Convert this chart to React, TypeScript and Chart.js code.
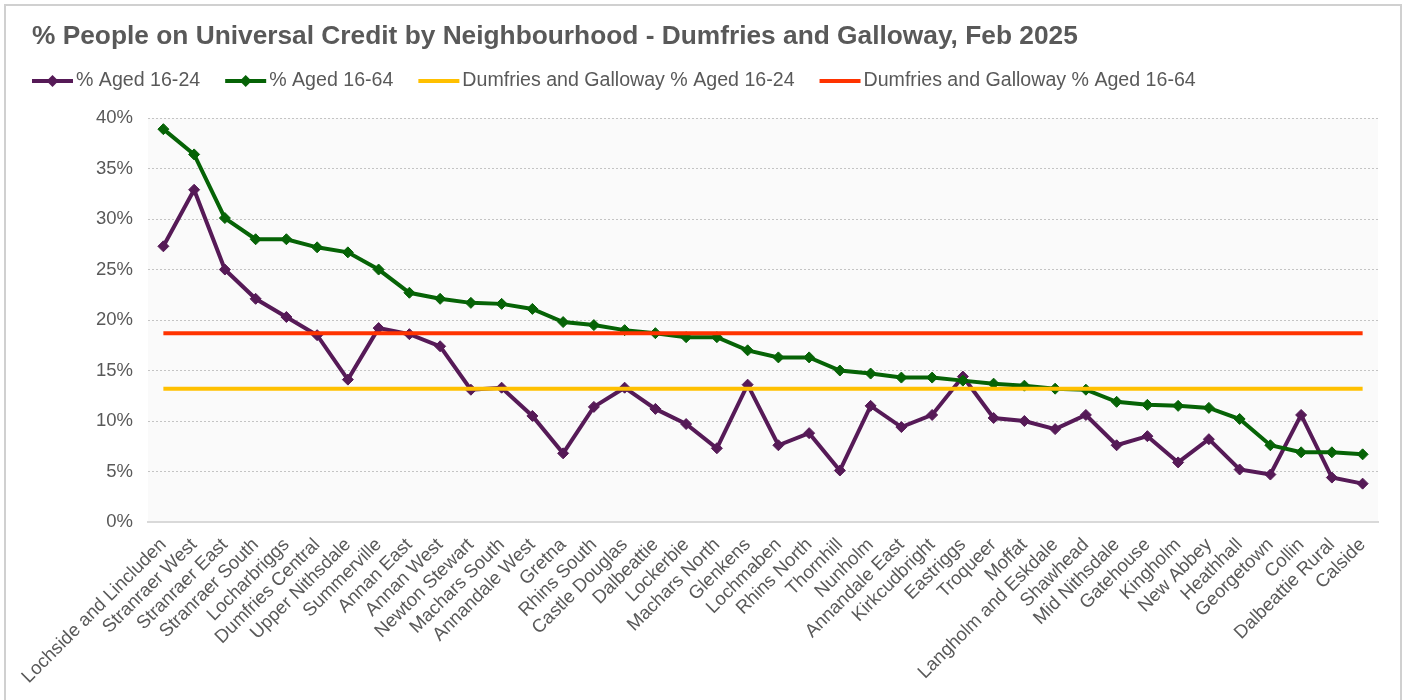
import React, { useEffect, useRef } from "react";
import { Chart, registerables } from "chart.js";

Chart.register(...registerables);

const FONT = '"Liberation Sans", Arial, sans-serif';
const TEXT_COLOR = "#595959";

const titleText = "% People on Universal Credit by Neighbourhood - Dumfries and Galloway, Feb 2025";

const categories = [
  "Lochside and Lincluden", "Stranraer West", "Stranraer East", "Stranraer South", "Locharbriggs",
  "Dumfries Central", "Upper Nithsdale", "Summerville", "Annan East", "Annan West",
  "Newton Stewart", "Machars South", "Annandale West", "Gretna", "Rhins South",
  "Castle Douglas", "Dalbeattie", "Lockerbie", "Machars North", "Glenkens",
  "Lochmaben", "Rhins North", "Thornhill", "Nunholm", "Annandale East",
  "Kirkcudbright", "Eastriggs", "Troqueer", "Moffat", "Langholm and Eskdale",
  "Shawhead", "Mid Nithsdale", "Gatehouse", "Kingholm", "New Abbey",
  "Heathhall", "Georgetown", "Collin", "Dalbeattie Rural", "Calside",
];

const aged1624 = [
  27.3, 32.9, 25.0, 22.1, 20.3, 18.5, 14.1, 19.2, 18.6, 17.4,
  13.1, 13.3, 10.5, 6.8, 11.4, 13.3, 11.2, 9.7, 7.3, 13.6,
  7.6, 8.8, 5.1, 11.5, 9.4, 10.6, 14.4, 10.3, 10.0, 9.2,
  10.6, 7.6, 8.5, 5.9, 8.2, 5.2, 4.7, 10.6, 4.4, 3.8,
];

const aged1664 = [
  38.9, 36.4, 30.1, 28.0, 28.0, 27.2, 26.7, 25.0, 22.7, 22.1,
  21.7, 21.6, 21.1, 19.8, 19.5, 19.0, 18.7, 18.3, 18.3, 17.0,
  16.3, 16.3, 15.0, 14.7, 14.3, 14.3, 14.0, 13.7, 13.5, 13.2,
  13.1, 11.9, 11.6, 11.5, 11.3, 10.2, 7.6, 6.9, 6.9, 6.7,
];

const dgAged1624 = 13.2;
const dgAged1664 = 18.7;

const seriesLabels = [
  "% Aged 16-24",
  "% Aged 16-64",
  "Dumfries and Galloway % Aged 16-24",
  "Dumfries and Galloway % Aged 16-64",
];
const seriesColors = ["#561a57", "#066306", "#ffc000", "#ff3300"];
const seriesMarkers = [true, true, false, false];

const yMin = 0;
const yMax = 40;
const yStep = 5;

const backgroundPlugin = {
  id: "bgPlugin",
  beforeDraw(chart: any) {
    const { ctx, chartArea, width, height } = chart;
    ctx.save();
    ctx.fillStyle = "#ffffff";
    ctx.fillRect(0, 0, width, height);
    ctx.fillStyle = "#fafafa";
    ctx.fillRect(chartArea.left, chartArea.top, chartArea.right - chartArea.left, chartArea.bottom - chartArea.top);
    ctx.strokeStyle = "#d0d0d0";
    ctx.lineWidth = 2;
    ctx.strokeRect(5, 5, width - 10, height + 20);
    ctx.restore();
  },
};

const legendPlugin = {
  id: "customLegend",
  afterDraw(chart: any) {
    const { ctx } = chart;
    ctx.save();
    ctx.font = `19.6px ${FONT}`;
    ctx.textBaseline = "middle";
    ctx.textAlign = "left";
    let x = 32;
    const y = 81;
    chart.data.datasets.forEach((ds: any, i: number) => {
      ctx.strokeStyle = ds.borderColor;
      ctx.lineWidth = 4;
      ctx.beginPath();
      ctx.moveTo(x, y);
      ctx.lineTo(x + 41, y);
      ctx.stroke();
      if (seriesMarkers[i]) {
        const cx = x + 20.5;
        const r = 6;
        ctx.fillStyle = ds.borderColor;
        ctx.beginPath();
        ctx.moveTo(cx, y - r);
        ctx.lineTo(cx + r, y);
        ctx.lineTo(cx, y + r);
        ctx.lineTo(cx - r, y);
        ctx.closePath();
        ctx.fill();
      }
      ctx.fillStyle = TEXT_COLOR;
      ctx.fillText(ds.label, x + 44, y);
      x += 44 + ctx.measureText(ds.label).width + 25;
    });
    ctx.restore();
  },
};

export default function App() {
  const ref = useRef<HTMLCanvasElement>(null);

  useEffect(() => {
    document.body.style.margin = "0";
    const canvas = ref.current!;
    const datasets = [
      {
        label: seriesLabels[0],
        data: aged1624,
        borderColor: seriesColors[0],
        backgroundColor: seriesColors[0],
        borderWidth: 4,
        pointStyle: "rectRot",
        pointRadius: 5.5,
        pointBorderWidth: 1,
        order: 3,
      },
      {
        label: seriesLabels[1],
        data: aged1664,
        borderColor: seriesColors[1],
        backgroundColor: seriesColors[1],
        borderWidth: 4,
        pointStyle: "rectRot",
        pointRadius: 5.5,
        pointBorderWidth: 1,
        order: 2,
      },
      {
        label: seriesLabels[2],
        data: categories.map(() => dgAged1624),
        borderColor: seriesColors[2],
        backgroundColor: seriesColors[2],
        borderWidth: 4,
        pointRadius: 0,
        order: 1,
      },
      {
        label: seriesLabels[3],
        data: categories.map(() => dgAged1664),
        borderColor: seriesColors[3],
        backgroundColor: seriesColors[3],
        borderWidth: 4,
        pointRadius: 0,
        order: 0,
      },
    ];

    const chart = new Chart(canvas, {
      type: "line",
      data: { labels: categories, datasets } as any,
      options: {
        responsive: false,
        animation: false,
        events: [],
        layout: { padding: { left: 32, right: 28, top: 0, bottom: 0 } },
        plugins: {
          legend: { display: false },
          tooltip: { enabled: false },
          title: {
            display: true,
            text: titleText,
            align: "start",
            color: TEXT_COLOR,
            font: { family: FONT, size: 26.3, weight: "bold" },
            padding: { top: 21, bottom: 65.5 },
          },
        },
        scales: {
          x: {
            offset: true,
            grid: { display: false, drawTicks: false },
            border: { display: true, color: "#d9d9d9", width: 2 },
            ticks: {
              autoSkip: false,
              minRotation: 45,
              maxRotation: 45,
              color: TEXT_COLOR,
              font: { family: FONT, size: 18.6 },
              padding: 12,
            },
            afterFit: (s: any) => {
              s.height = 178;
            },
          },
          y: {
            min: yMin,
            max: yMax,
            ticks: {
              stepSize: yStep,
              callback: (v: any) => `${v}%`,
              color: TEXT_COLOR,
              font: { family: FONT, size: 18.5 },
              padding: 15,
            },
            grid: { color: "#c4c4c4", drawTicks: false, lineWidth: 1 },
            border: { display: false, dash: [2, 2] },
            afterFit: (s: any) => {
              s.width = 116;
            },
          },
        },
      } as any,
      plugins: [backgroundPlugin, legendPlugin],
    });
    return () => chart.destroy();
  }, []);

  return (
    <div style={{ width: 1406, height: 700 }}>
      <canvas ref={ref} width={1406} height={700} style={{ display: "block" }} />
    </div>
  );
}
